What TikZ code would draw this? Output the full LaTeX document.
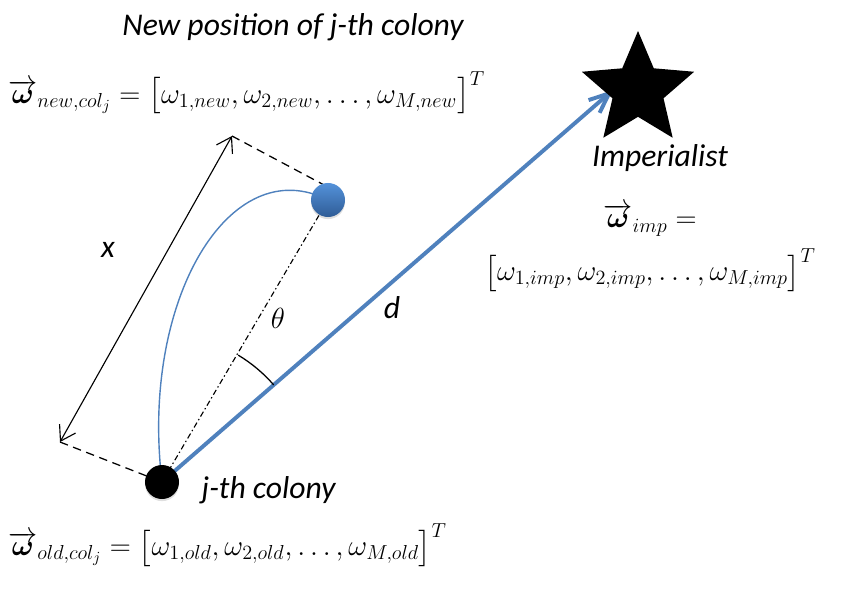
\documentclass[tikz,border=0pt]{standalone}
\usepackage{amsmath,amssymb,bm}
\usepackage{fontspec}
\setsansfont{Carlito}
\usetikzlibrary{shapes.geometric, arrows.meta, positioning, backgrounds, shadows}
\definecolor{colblue}{RGB}{79,129,189}
\definecolor{balltop}{RGB}{84,146,218}
\definecolor{ballbot}{RGB}{47,92,150}

\begin{document}
\begin{tikzpicture}[x=0.025cm, y=0.025cm,
    lbl/.style={font=\fontsize{22.5}{27}\selectfont\sffamily\itshape, inner sep=1pt},
    eq/.style={font=\fontsize{21.6}{26}\selectfont, inner sep=0pt},
    colony/.style={circle, fill=black, minimum size=0.85cm, inner sep=0pt,
        drop shadow={opacity=0.25, shadow xshift=0pt, shadow yshift=-1.5pt}},
    newcolony/.style={circle, top color=balltop, bottom color=ballbot, draw=none,
        minimum size=0.85cm, inner sep=0pt,
        drop shadow={opacity=0.25, shadow xshift=0pt, shadow yshift=-1.5pt}},
    impstar/.style={star, star points=5, star point ratio=2.2, fill=black,
        minimum size=2.95cm, inner sep=0pt},
    moveline/.style={draw=colblue, line width=2.8pt, -{Straight Barb[length=5mm, width=4.2mm]}},
    dimline/.style={line width=0.8pt, {Straight Barb[length=3.6mm, width=4.6mm]}-{Straight Barb[length=3.6mm, width=4.6mm]}},
    helper/.style={line width=0.9pt, dash pattern=on 6pt off 4pt}]
    \useasboundingbox (0,0) rectangle (841,588);

    \node[colony] (old) at (162,106) {};
    \node[newcolony] (new) at (328,388) {};
    \node[impstar] (imp) at (638,498) {};
    \coordinate (tip) at (613,498);
    \coordinate (xtop) at (232,452);
    \coordinate (xbot) at (60,146);
    \coordinate (ntop) at (326,402);

    \begin{pgfonlayer}{background}
    \draw[moveline] (old.center) -- (tip);
    \draw[line width=0.8pt, dash pattern=on 4pt off 2pt on 1pt off 2pt] (old.center) -- (new.center);
    \draw[draw=colblue, line width=1pt] (old.center) .. controls (140,288) and (230,438) .. (new.center);
    \draw[helper] (xtop) -- (ntop);
    \draw[helper] (xbot) -- (old.center);
    \end{pgfonlayer}
    \draw[dimline] (xtop) -- (xbot);
    % angle between the two directions
    \draw[line width=0.9pt] (old.center) ++(41:148) arc[start angle=41, end angle=59, radius=148];

    \node[lbl] (title) at (293,561) {New position of j-th colony};
    \node[eq, anchor=west] (wnew) at (8,495) {$\overrightarrow{\bm\omega}_{new,col_j} = \big[\omega_{1,new}, \omega_{2,new}, \dots, \omega_{M,new}\big]^T$};
    \node[lbl] (implbl) at (660,430) {Imperialist};
    \node[eq] (wimp) at (650,368) {$\overrightarrow{\bm\omega}_{imp} =$};
    \node[eq] (wimpvec) at (650,318) {$\big[\omega_{1,imp}, \omega_{2,imp}, \dots, \omega_{M,imp}\big]^T$};
    \node[lbl] (dlbl) at (392,280) {d};
    \node[lbl] (xlbl) at (108,338) {x};
    \node[eq] (theta) at (278,270) {$\theta$};
    \node[lbl, anchor=west] (oldlbl) at (200,98) {j-th colony};
    \node[eq, anchor=west] (wold) at (8,43) {$\overrightarrow{\bm\omega}_{old,col_j} = \big[\omega_{1,old}, \omega_{2,old}, \dots, \omega_{M,old}\big]^T$};
\end{tikzpicture}
\end{document}
